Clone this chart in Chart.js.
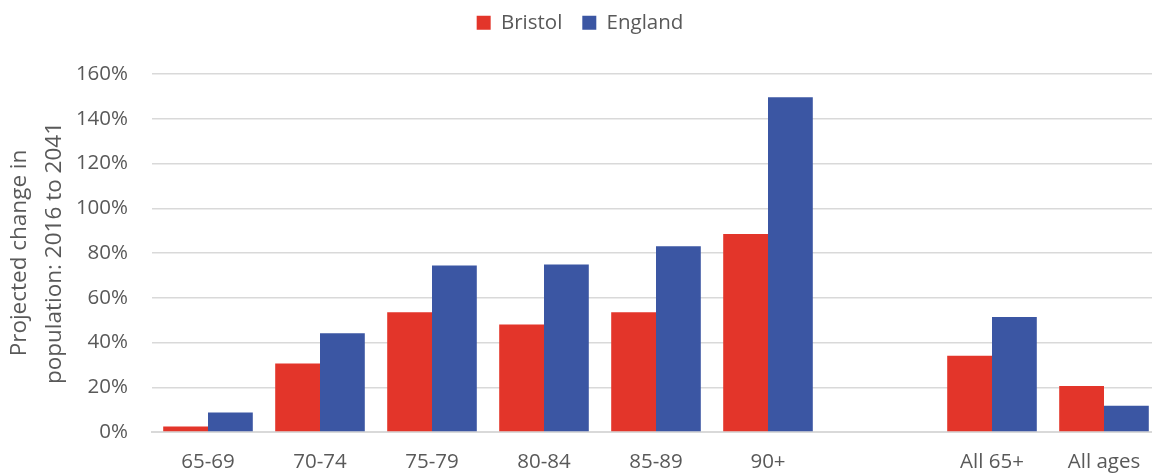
<!DOCTYPE html>
<html>
<head>
<meta charset="utf-8">
<script src="https://cdn.jsdelivr.net/npm/chart.js@4.4.1/dist/chart.umd.min.js"></script>
<style>
  html, body { margin: 0; padding: 0; background: #ffffff; overflow: hidden; }
  #wrap { width: 1152px; height: 475px; overflow: hidden; position: relative; }
  canvas { display: block; }
</style>
</head>
<body>
<div id="wrap"><canvas id="c" width="1162" height="475" style="width:1162px;height:475px"></canvas></div>
<script>
const categories = ["65-69", "70-74", "75-79", "80-84", "85-89", "90+", "", "All 65+", "All ages"];
const bristol = [2.5, 30.6, 53.5, 48.1, 53.5, 88.5, null, 34.1, 20.6];
const england = [8.7, 44.1, 74.4, 74.9, 83.0, 149.6, null, 51.4, 11.7];
const yTicks = { min: 0, max: 160, step: 20 };
const axisTitle = ["Projected change in", "population: 2016 to 2041"];

const FONT = "'Open Sans', Lato, sans-serif";
const TXT = "#595959";

const legendGap = {
  id: "legendGap",
  beforeInit(chart) {
    const orig = chart.legend.fit;
    chart.legend.fit = function () {
      orig.call(this);
      this.height += 31;
    };
  }
};

new Chart(document.getElementById("c"), {
  type: "bar",
  data: {
    labels: categories,
    datasets: [
      { label: "Bristol", data: bristol, backgroundColor: "#E3352A", borderWidth: 0 },
      { label: "England", data: england, backgroundColor: "#3B56A3", borderWidth: 0 }
    ]
  },
  options: {
    responsive: false,
    animation: false,
    devicePixelRatio: 1,
    layout: { padding: { top: -7.5, left: 0, right: 2, bottom: 0 } },
    datasets: { bar: { barPercentage: 1.0, categoryPercentage: 0.8 } },
    plugins: {
      legend: {
        position: "top",
        align: "center",
        labels: {
          font: { family: FONT, size: 20.5 },
          color: TXT,
          boxWidth: 14,
          boxHeight: 14,
          padding: 20
        }
      },
      tooltip: { enabled: false }
    },
    scales: {
      x: {
        grid: { display: false, drawTicks: false },
        border: { display: true, color: "#d9d9d9", width: 2 },
        ticks: {
          font: { family: FONT, size: 20.5 },
          color: TXT,
          padding: 18,
          maxRotation: 0,
          autoSkip: false
        },
        afterFit(scale) { scale.height = 43; }
      },
      y: {
        min: yTicks.min,
        max: yTicks.max,
        grid: { color: "#d9d9d9", lineWidth: 1.5, drawTicks: false },
        border: { display: false },
        ticks: {
          stepSize: yTicks.step,
          font: { family: FONT, size: 20.5 },
          color: TXT,
          padding: 24,
          callback: (v) => v + "%"
        },
        title: {
          display: true,
          text: axisTitle,
          font: { family: FONT, size: 22.5, lineHeight: 1.55 },
          color: TXT,
          padding: { top: 2, bottom: 0 }
        },
        afterFit(scale) { scale.width = 152; }
      }
    }
  },
  plugins: [legendGap]
});
</script>
</body>
</html>
